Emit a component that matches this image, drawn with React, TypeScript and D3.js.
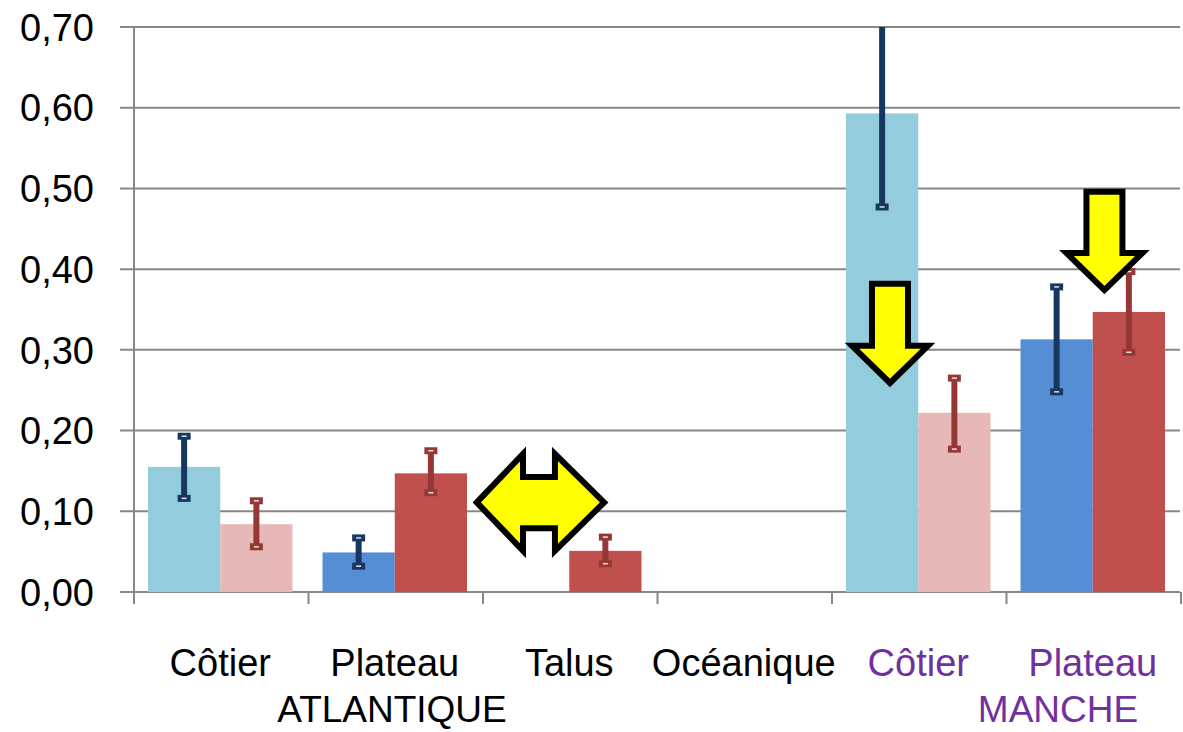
import React from "react";
import * as d3 from "d3";

const categories = ["Côtier", "Plateau", "Talus", "Océanique", "Côtier", "Plateau"];
const categoryColors = ["#000000", "#000000", "#000000", "#000000", "#7030A0", "#7030A0"];
const regions = [
  { label: "ATLANTIQUE", x: 392, color: "#000000" },
  { label: "MANCHE", x: 1058, color: "#7030A0" },
];

const seriesA: (number | null)[] = [0.155, 0.049, null, null, 0.593, 0.313];
const seriesAColors = ["#93CDDD", "#558ED5", "#558ED5", "#558ED5", "#93CDDD", "#558ED5"];
const errA: ([number, number] | null)[] = [[0.116, 0.193], [0.032, 0.067], null, null, [0.477, 0.76], [0.248, 0.378]];

const seriesB: (number | null)[] = [0.084, 0.147, 0.051, null, 0.222, 0.347];
const seriesBColors = ["#E6B9B8", "#C0504D", "#C0504D", "#C0504D", "#E6B9B8", "#C0504D"];
const errB: ([number, number] | null)[] = [[0.056, 0.113], [0.123, 0.175], [0.035, 0.068], null, [0.177, 0.265], [0.297, 0.397]];

const yTicks = [0, 0.1, 0.2, 0.3, 0.4, 0.5, 0.6, 0.7];

const W = 1183, H = 732;
const left = 133, right = 1180, top = 27, bottom = 592;
const FONT = "'Liberation Sans', Arial, sans-serif";

export default function App() {
  const x = d3.scaleBand<number>().domain(d3.range(categories.length)).range([left, right]).paddingInner(0).paddingOuter(0);
  const y = d3.scaleLinear().domain([0, 0.7]).range([bottom, top]);
  const bw = x.bandwidth();
  const pad = bw * 0.086;
  const barW = (bw - 2 * pad) / 2;
  const fmt = (v: number) => v.toFixed(2).replace(".", ",");

  const barX = (i: number, s: number) => (x(i) as number) + pad + s * barW;

  const errBar = (i: number, s: number, e: [number, number] | null, color: string) => {
    if (!e) return null;
    const cx = barX(i, s) + barW / 2;
    const y1 = Math.max(y(e[1]), top);
    const y0 = y(e[0]);
    const cap = (yy: number, key: string) => (
      <g key={key}>
        <rect x={cx - 6.5} y={yy - 3.5} width={13} height={7} fill={color} />
        <rect x={cx - 2.5} y={yy - 0.75} width={5} height={1.5} fill="#ffffff" opacity={0.85} />
      </g>
    );
    return (
      <g key={`e${i}-${s}`}>
        <line x1={cx} x2={cx} y1={y1} y2={y0} stroke={color} strokeWidth={6} />
        {e[1] <= 0.7 && cap(y1, "t")}
        {cap(y0, "b")}
      </g>
    );
  };

  // arrows defined in category/value units
  const downArrow = (i: number, frac: number, vTop: number, vHead: number, vTip: number, key: string) => {
    const cx = (x(i) as number) + frac * bw;
    const sh = 18, hh = 38;
    const pts = [
      [cx - sh, y(vTop)], [cx + sh, y(vTop)], [cx + sh, y(vHead)], [cx + hh, y(vHead)],
      [cx, y(vTip)], [cx - hh, y(vHead)], [cx - sh, y(vHead)],
    ];
    return <polygon key={key} points={pts.map((p) => p.join(",")).join(" ")} fill="#FFFF00" stroke="#000" strokeWidth={6} strokeLinejoin="miter" />;
  };

  const dblArrow = () => {
    const xl = (x(1) as number) + bw * 0.97;
    const xr = (x(2) as number) + bw * 0.70;
    const xhl = (x(2) as number) + bw * 0.235;
    const xhr = (x(2) as number) + bw * 0.418;
    const yc = y(0.111), ht = y(0.171), hb = y(0.051), st = y(0.1425), sb = y(0.079);
    const pts = [
      [xl, yc], [xhl, ht], [xhl, st], [xhr, st], [xhr, ht], [xr, yc],
      [xhr, hb], [xhr, sb], [xhl, sb], [xhl, hb],
    ];
    return <polygon points={pts.map((p) => p.join(",")).join(" ")} fill="#FFFF00" stroke="#000" strokeWidth={6} strokeLinejoin="miter" />;
  };

  return (
    <svg width={W} height={H} style={{ position: "absolute", left: 0, top: 0, background: "#fff" }} fontFamily={FONT}>
      {yTicks.map((t) => (
        <g key={t}>
          <line x1={120} x2={right} y1={y(t)} y2={y(t)} stroke="#878787" strokeWidth={2} />
          <text x={94} y={y(t)} dy="0.36em" textAnchor="end" fontSize={38} fill="#000">{fmt(t)}</text>
        </g>
      ))}
      <line x1={134} x2={134} y1={top} y2={bottom + 12} stroke="#878787" strokeWidth={2} />
      {d3.range(categories.length + 1).map((i) => {
        const xx = i < categories.length ? (x(i) as number) : right;
        return <line key={i} x1={xx + 1} x2={xx + 1} y1={bottom} y2={bottom + 12} stroke="#878787" strokeWidth={2} />;
      })}
      {seriesA.map((v, i) => v == null ? null : (
        <rect key={`a${i}`} x={barX(i, 0)} y={y(v)} width={barW} height={y(0) - y(v)} fill={seriesAColors[i]} />
      ))}
      {seriesB.map((v, i) => v == null ? null : (
        <rect key={`b${i}`} x={barX(i, 1)} y={y(v)} width={barW} height={y(0) - y(v)} fill={seriesBColors[i]} />
      ))}
      {errA.map((e, i) => errBar(i, 0, e, "#17375E"))}
      {errB.map((e, i) => errBar(i, 1, e, "#953735"))}
      {dblArrow()}
      {downArrow(4, 0.338, 0.382, 0.305, 0.259, "d1")}
      {downArrow(5, 0.567, 0.496, 0.42, 0.374, "d2")}
      {categories.map((c, i) => (
        <text key={`c${i}`} x={(x(i) as number) + bw / 2} y={676} textAnchor="middle" fontSize={38} fill={categoryColors[i]}>{c}</text>
      ))}
      {regions.map((r) => (
        <text key={r.label} x={r.x} y={722} textAnchor="middle" fontSize={37} fill={r.color}>{r.label}</text>
      ))}
    </svg>
  );
}
